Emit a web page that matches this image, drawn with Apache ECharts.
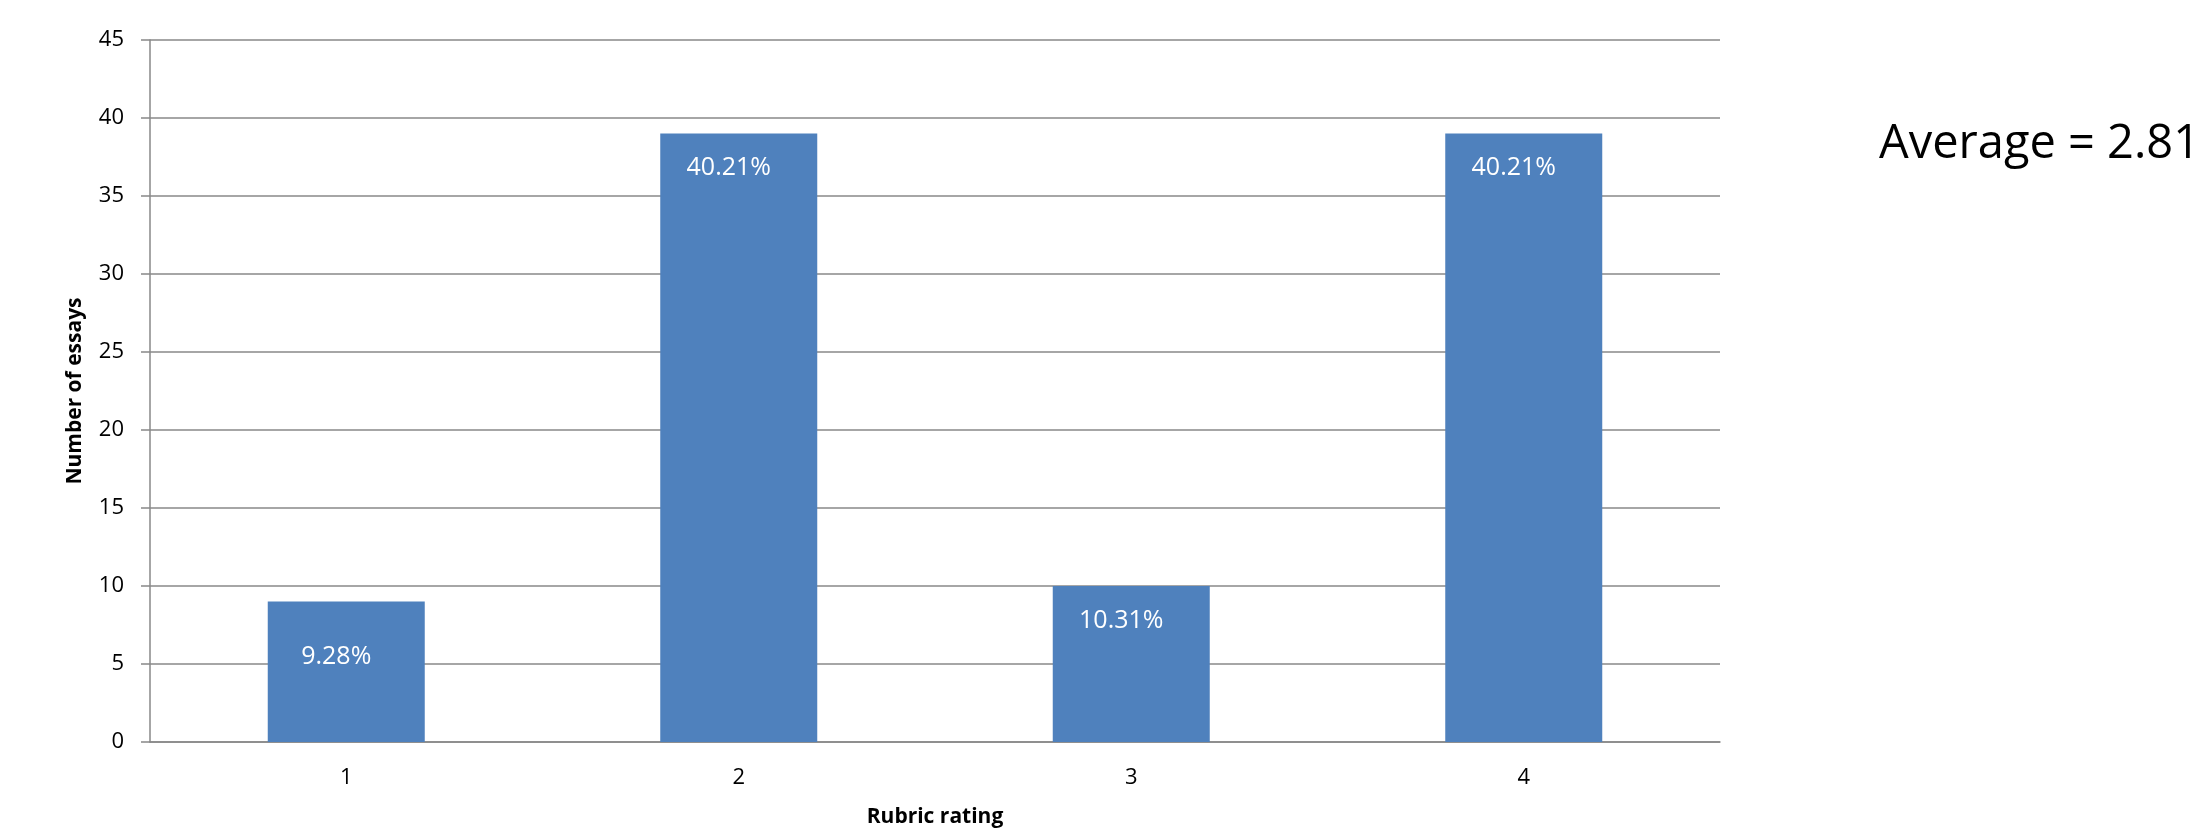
<!DOCTYPE html>
<html>
<head>
<meta charset="utf-8">
<script src="https://cdn.jsdelivr.net/npm/echarts@6/dist/echarts.min.js"></script>
<style>
html,body{margin:0;padding:0;background:#fff;}
#chart{width:2204px;height:830px;}
</style>
</head>
<body>
<div id="chart"></div>
<script>
const categories = ['1', '2', '3', '4'];
const essayCounts = [9, 39, 10, 39];
const percentLabels = ['9.28%', '40.21%', '10.31%', '40.21%'];
const averageText = 'Average = 2.81';
const xAxisTitle = 'Rubric rating';
const yAxisTitle = 'Number of essays';

const FONT = '"Open Sans", sans-serif';
const GRID = '#888888';
// label distance from bar top (style only)
const labelDistances = [43, 22, 22, 22];

const chart = echarts.init(document.getElementById('chart'), null, {renderer: 'canvas'});
chart.setOption({
  animation: false,
  backgroundColor: '#ffffff',
  grid: {left: 150, right: 484, top: 40, bottom: 88, containLabel: false, outerBoundsMode: 'none'},
  xAxis: {
    type: 'category',
    data: categories,
    name: xAxisTitle,
    nameLocation: 'middle',
    nameGap: 65,
    nameTextStyle: {fontFamily: FONT, fontSize: 21, fontWeight: 'bold', color: '#000'},
    axisLine: {show: true, lineStyle: {color: GRID, width: 1.5}},
    axisTick: {show: false},
    axisLabel: {fontFamily: FONT, fontSize: 22, color: '#000', margin: 25}
  },
  yAxis: {
    type: 'value',
    min: 0,
    max: 45,
    interval: 5,
    name: yAxisTitle,
    nameLocation: 'middle',
    nameRotate: 90,
    nameGap: 64,
    nameTextStyle: {fontFamily: FONT, fontSize: 21, fontWeight: 'bold', color: '#000'},
    axisLine: {show: true, lineStyle: {color: GRID, width: 1.5}},
    axisTick: {show: true, inside: false, length: 9, lineStyle: {color: GRID, width: 1.5}},
    axisLabel: {fontFamily: FONT, fontSize: 22, color: '#000', margin: 26},
    splitLine: {show: true, lineStyle: {color: GRID, width: 1.5}}
  },
  series: [{
    type: 'bar',
    barWidth: '40%',
    itemStyle: {color: '#4F81BD'},
    data: essayCounts.map((v, i) => ({
      value: v,
      label: {distance: labelDistances[i]}
    })),
    label: {
      show: true,
      position: 'insideTop',
      offset: [-10, 0],
      color: '#ffffff',
      fontFamily: FONT,
      fontSize: 25,
      formatter: p => percentLabels[p.dataIndex]
    }
  }],
  graphic: [{
    type: 'text',
    left: 1879,
    top: 121,
    style: {
      text: averageText,
      fontFamily: FONT,
      fontSize: 47,
      fill: '#000'
    }
  }]
});
</script>
</body>
</html>
